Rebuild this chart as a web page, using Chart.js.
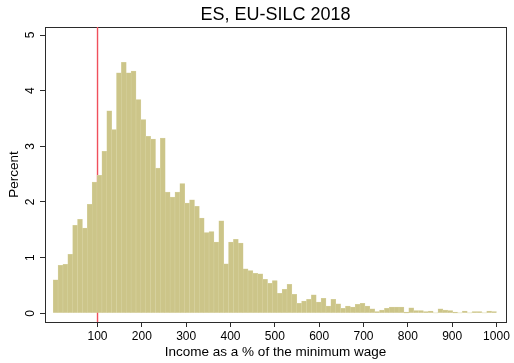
<!DOCTYPE html>
<html>
<head>
<meta charset="utf-8">
<script src="https://cdn.jsdelivr.net/npm/chart.js@4.4.1/dist/chart.umd.min.js"></script>
<style>
  html, body { margin: 0; padding: 0; background: #ffffff; }
  #wrap { width: 514px; height: 363px; }
</style>
</head>
<body>
<div id="wrap"><canvas id="hist" width="514" height="363"></canvas></div>
<script>
// Texts
const chartTitle = 'ES, EU-SILC 2018';
const xAxisTitle = 'Income as a % of the minimum wage';
const yAxisTitle = 'Percent';

// Histogram: percent of observations in each income bin (0 to 1000 % of the minimum wage)
const binLow = 0;
const binHigh = 1000;
const percentShare = [
  0.60, 0.86, 0.88, 1.06, 1.58, 1.69, 1.53, 1.96, 2.36, 2.48,
  2.91, 3.64, 3.30, 4.32, 4.51, 4.32, 4.35, 3.84, 3.48, 3.18,
  3.13, 2.61, 3.15, 2.18, 2.09, 2.18, 2.33, 1.98, 2.04, 1.92,
  1.71, 1.45, 1.47, 1.28, 1.66, 0.89, 1.28, 1.33, 1.26, 0.80,
  0.77, 0.72, 0.71, 0.61, 0.54, 0.59, 0.36, 0.43, 0.52, 0.34,
  0.18, 0.22, 0.25, 0.33, 0.20, 0.27, 0.13, 0.25, 0.17, 0.09,
  0.13, 0.11, 0.16, 0.18, 0.13, 0.08, 0.03, 0.06, 0.09, 0.11,
  0.11, 0.11, 0.02, 0.10, 0.05, 0.05, 0.03, 0.04, 0.01, 0.08,
  0.06, 0.05, 0.02, 0.01, 0.04, 0.01, 0.03, 0.03, 0.01, 0.04,
  0.03
];

// Reference line: income equal to the minimum wage
const minimumWageLevel = 100;

// Axis ticks
const xTickValues = [100, 200, 300, 400, 500, 600, 700, 800, 900, 1000];
const yTickValues = [0, 1, 2, 3, 4, 5];

// Axis ranges (a little room around the data, as in the frame)
const xRange = [-18.5, 1021.5];
const yRange = [-0.156, 5.144];

const binWidth = (binHigh - binLow) / percentShare.length;
const barPoints = percentShare.map((v, i) => ({ x: binLow + (i + 0.5) * binWidth, y: v }));
const linePoints = [{ x: minimumWageLevel, y: yRange[0] }, { x: minimumWageLevel, y: yRange[1] }];

const FONT = '"Liberation Sans", Arial, Helvetica, sans-serif';
const AXIS_COLOR = '#2b2b2b';
const LINE_RED = '#f0505c';

const hiddenAxis = (extra) => Object.assign({
  type: 'linear',
  offset: false,
  ticks: { display: false },
  grid: { display: false, drawTicks: false, offset: false },
  border: { display: true, color: AXIS_COLOR, width: 1 }
}, extra);

new Chart(document.getElementById('hist'), {
  type: 'bar',
  data: {
    datasets: [
      {
        type: 'bar',
        data: barPoints,
        backgroundColor: '#ccc589',
        borderColor: '#d9d4a3',
        borderWidth: 0.5,
        categoryPercentage: 1,
        barPercentage: 1,
        xAxisID: 'x',
        yAxisID: 'y',
        order: 1
      },
      {
        type: 'line',
        data: linePoints,
        borderColor: LINE_RED,
        backgroundColor: LINE_RED,
        borderWidth: 1.4,
        pointRadius: 0,
        fill: false,
        xAxisID: 'x',
        yAxisID: 'y',
        order: 2
      }
    ]
  },
  options: {
    responsive: false,
    animation: false,
    events: [],
    layout: { padding: 0 },
    plugins: { legend: { display: false }, tooltip: { enabled: false }, title: { display: false } },
    scales: {
      x: {
        type: 'linear',
        position: 'bottom',
        offset: false,
        min: xRange[0],
        max: xRange[1],
        afterBuildTicks: (s) => { s.ticks = xTickValues.map(v => ({ value: v })); },
        afterFit: (s) => { s.height = 41; },
        ticks: {
          autoSkip: false,
          maxRotation: 0,
          minRotation: 0,
          padding: 2,
          color: '#000',
          font: { family: FONT, size: 12 },
          callback: (v) => String(v)
        },
        grid: { offset: false, drawOnChartArea: false, drawTicks: true, tickLength: 5, color: AXIS_COLOR, lineWidth: 1 },
        border: { display: true, color: AXIS_COLOR, width: 1 },
        title: {
          display: true,
          text: xAxisTitle,
          color: '#000',
          font: { family: FONT, size: 13.5 },
          padding: { top: 0, bottom: 3 }
        }
      },
      y: {
        type: 'linear',
        position: 'left',
        min: yRange[0],
        max: yRange[1],
        afterBuildTicks: (s) => { s.ticks = yTickValues.map(v => ({ value: v })); },
        afterFit: (s) => { s.width = 45; },
        ticks: {
          minRotation: 90,
          maxRotation: 90,
          crossAlign: 'center',
          padding: 6,
          color: '#000',
          font: { family: FONT, size: 12 },
          callback: (v) => String(v)
        },
        grid: { drawOnChartArea: false, drawTicks: true, tickLength: 5, color: AXIS_COLOR, lineWidth: 1 },
        border: { display: true, color: AXIS_COLOR, width: 1 },
        title: {
          display: true,
          text: yAxisTitle,
          color: '#000',
          font: { family: FONT, size: 13.5 },
          padding: { top: 6, bottom: 0 }
        }
      },
      xTop: hiddenAxis({
        position: 'top',
        min: xRange[0],
        max: xRange[1],
        afterFit: (s) => { s.height = 27; },
        title: {
          display: true,
          text: chartTitle,
          color: '#000',
          font: { family: FONT, size: 18 },
          padding: { top: 4, bottom: 0 }
        }
      }),
      yRight: hiddenAxis({
        position: 'right',
        min: yRange[0],
        max: yRange[1],
        afterFit: (s) => { s.width = 8; }
      })
    }
  }
});
</script>
</body>
</html>
